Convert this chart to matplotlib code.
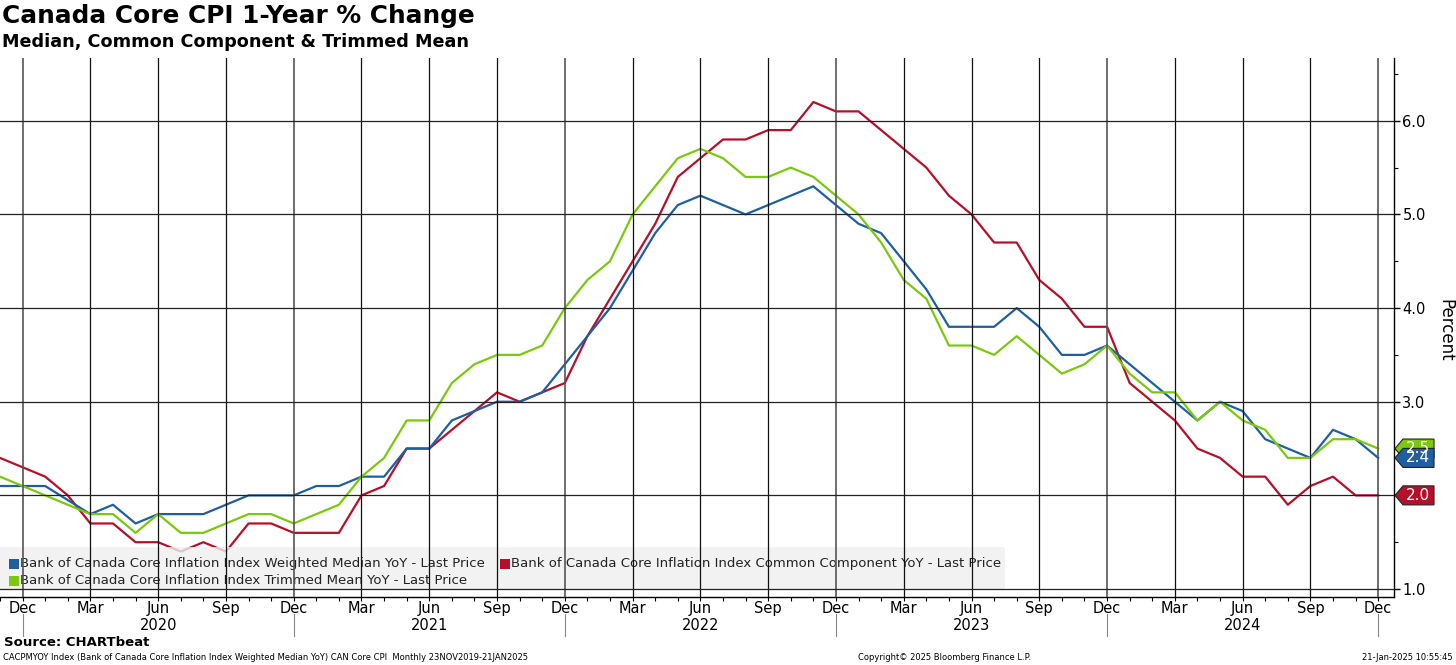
import numpy as np
import matplotlib
matplotlib.use("Agg")
import matplotlib.pyplot as plt
from matplotlib.patches import Rectangle, Polygon
from matplotlib.lines import Line2D
import matplotlib.transforms as mtransforms
from matplotlib.ticker import FixedLocator, MultipleLocator

plt.rcParams['font.family'] = ['DejaVu Sans']

# ---- data (monthly, Nov 2019 .. Dec 2024) ----
months = ['Nov', 'Dec'] + ['Jan', 'Feb', 'Mar', 'Apr', 'May', 'Jun', 'Jul', 'Aug', 'Sep', 'Oct', 'Nov', 'Dec'] * 5
years = [2019, 2019] + [y for y in range(2020, 2025) for _ in range(12)]

median = [2.1, 2.1,
          2.1, 1.95, 1.8, 1.9, 1.7, 1.8, 1.8, 1.8, 1.9, 2.0, 2.0, 2.0,
          2.1, 2.1, 2.2, 2.2, 2.5, 2.5, 2.8, 2.9, 3.0, 3.0, 3.1, 3.4,
          3.7, 4.0, 4.4, 4.8, 5.1, 5.2, 5.1, 5.0, 5.1, 5.2, 5.3, 5.1,
          4.9, 4.8, 4.5, 4.2, 3.8, 3.8, 3.8, 4.0, 3.8, 3.5, 3.5, 3.6,
          3.4, 3.2, 3.0, 2.8, 3.0, 2.9, 2.6, 2.5, 2.4, 2.7, 2.6, 2.4]

common = [2.4, 2.3,
          2.2, 2.0, 1.7, 1.7, 1.5, 1.5, 1.4, 1.5, 1.4, 1.7, 1.7, 1.6,
          1.6, 1.6, 2.0, 2.1, 2.5, 2.5, 2.7, 2.9, 3.1, 3.0, 3.1, 3.2,
          3.7, 4.1, 4.5, 4.9, 5.4, 5.6, 5.8, 5.8, 5.9, 5.9, 6.2, 6.1,
          6.1, 5.9, 5.7, 5.5, 5.2, 5.0, 4.7, 4.7, 4.3, 4.1, 3.8, 3.8,
          3.2, 3.0, 2.8, 2.5, 2.4, 2.2, 2.2, 1.9, 2.1, 2.2, 2.0, 2.0]

trimmed = [2.2, 2.1,
           2.0, 1.9, 1.8, 1.8, 1.6, 1.8, 1.6, 1.6, 1.7, 1.8, 1.8, 1.7,
           1.8, 1.9, 2.2, 2.4, 2.8, 2.8, 3.2, 3.4, 3.5, 3.5, 3.6, 4.0,
           4.3, 4.5, 5.0, 5.3, 5.6, 5.7, 5.6, 5.4, 5.4, 5.5, 5.4, 5.2,
           5.0, 4.7, 4.3, 4.1, 3.6, 3.6, 3.5, 3.7, 3.5, 3.3, 3.4, 3.6,
           3.3, 3.1, 3.1, 2.8, 3.0, 2.8, 2.7, 2.4, 2.4, 2.6, 2.6, 2.5]

series_labels = ['Bank of Canada Core Inflation Index Weighted Median YoY - Last Price',
                 'Bank of Canada Core Inflation Index Common Component YoY - Last Price',
                 'Bank of Canada Core Inflation Index Trimmed Mean YoY - Last Price']
y_ticks = [1.0, 2.0, 3.0, 4.0, 5.0, 6.0]

title = 'Canada Core CPI 1-Year % Change'
subtitle = 'Median, Common Component & Trimmed Mean'

C_BLUE = '#1f5fa0'
C_RED = '#b5102a'
C_GREEN = '#7bc80e'

# ---- figure ----
W, H = 1456, 665
fig = plt.figure(figsize=(W / 100, H / 100), dpi=100)
AX_L, AX_R, AX_T, AX_B = 0, 1394, 58, 597
ax = fig.add_axes([AX_L / W, 1 - AX_B / H, (AX_R - AX_L) / W, (AX_B - AX_T) / H])

x = np.arange(len(months))
ax.plot(x, common, color=C_RED, lw=1.6, zorder=2)
ax.plot(x, median, color=C_BLUE, lw=1.6, zorder=2.05)
ax.plot(x, trimmed, color=C_GREEN, lw=1.6, zorder=2.1)

ax.set_xlim(0, 61.7)
ax.set_ylim(0.915, 6.67)

# spines
for s in ['top', 'left']:
    ax.spines[s].set_visible(False)
ax.spines['right'].set_linewidth(1.0)
ax.spines['bottom'].set_linewidth(1.0)

# x ticks
quarter_idx = [i for i, m in enumerate(months) if m in ('Dec', 'Mar', 'Jun', 'Sep')]
ax.xaxis.set_major_locator(FixedLocator(quarter_idx))
ax.set_xticklabels([months[i] for i in quarter_idx])
ax.xaxis.set_minor_locator(FixedLocator(list(x)))
ax.tick_params(axis='x', which='major', length=3, width=0.8, pad=0, labelsize=10.5, direction='out')
ax.tick_params(axis='x', which='minor', length=3, width=0.8, direction='out')

# y ticks on right (the 2.0 label is covered by the last-value tag in the reference)
last_vals = [median[-1], common[-1], trimmed[-1]]
ax.yaxis.tick_right()
ax.set_yticks(y_ticks)
ax.set_yticklabels(['' if any(abs(v - lv) < 0.15 for lv in last_vals) else f'{v:.1f}' for v in y_ticks])
ax.yaxis.set_minor_locator(MultipleLocator(0.5))
ax.tick_params(axis='y', which='major', length=4, width=1, pad=2, labelsize=10.5, direction='out')
ax.tick_params(axis='y', which='minor', length=3, width=0.8, direction='out')

# gridlines
for i in quarter_idx:
    is_dec = months[i] == 'Dec'
    ax.axvline(i, color='#555555' if is_dec else '#111111', lw=1.2 if is_dec else 0.9, zorder=3)
for v in y_ticks:
    ax.axhline(v, color='#222222', lw=0.9, zorder=3)

# year labels and separators
blend = mtransforms.blended_transform_factory(ax.transData, ax.transAxes)
hpx = AX_B - AX_T
for i, m in enumerate(months):
    if m == 'Jun':
        ax.text(i, -(626 - AX_B) / hpx, str(years[i]), transform=blend, ha='center', va='center', fontsize=10.5)
    if m == 'Dec':
        ax.add_line(Line2D([i, i], [-(614 - AX_B) / hpx, -(636 - AX_B) / hpx], transform=blend,
                           color='#888888', lw=0.8, clip_on=False))

# legend (drawn beneath gridlines, semi-transparent)
wpx = AX_R - AX_L
def axp(px, py):
    return ((px - AX_L) / wpx, (AX_B - py) / hpx)

x0, y0 = axp(0, 589)
x1, y1 = axp(1005, 547)
ax.add_patch(Rectangle((x0, y0), x1 - x0, y1 - y0, transform=ax.transAxes,
                       facecolor='#efefef', edgecolor='none', alpha=0.8, zorder=2.5))
leg_items = [(series_labels[0], C_BLUE, 9, 564),
             (series_labels[1], C_RED, 500, 564),
             (series_labels[2], C_GREEN, 9, 581)]
for lab, col, px, py in leg_items:
    ax0, ay0 = axp(px, py + 5)
    ax1, ay1 = axp(px + 10, py - 5)
    ax.add_patch(Rectangle((ax0, ay0), ax1 - ax0, ay1 - ay0, transform=ax.transAxes,
                           facecolor=col, edgecolor='none', zorder=2.6))
    tx, ty = axp(px + 11, py)
    ax.text(tx, ty, lab, transform=ax.transAxes, ha='left', va='center', fontsize=9.5,
            color='#222222', zorder=2.6)

# value tags on right
tagT = mtransforms.blended_transform_factory(ax.transAxes, ax.transData)
def add_tag(val, col):
    h = 19 / 93.6 / 2
    tip = (1395 - AX_L) / wpx
    left = (1403 - AX_L) / wpx
    right = (1434 - AX_L) / wpx
    poly = Polygon([(tip, val), (left, val + h), (right, val + h), (right, val - h), (left, val - h)],
                   closed=True, transform=tagT, facecolor=col, edgecolor='#222222', lw=0.8, clip_on=False,
                   zorder=5)
    ax.add_patch(poly)
    ax.text((1418 - AX_L) / wpx, val, f'{val:.1f}', transform=tagT, ha='center', va='center',
            color='white', fontsize=11, zorder=6, clip_on=False)

add_tag(trimmed[-1], C_GREEN)
add_tag(median[-1], C_BLUE)
add_tag(common[-1], C_RED)

# titles and text
fig.text(2 / W, 1 - 4 / H, title, ha='left', va='top', fontsize=17.8, fontweight='bold')
fig.text(2 / W, 1 - 33 / H, subtitle, ha='left', va='top', fontsize=12.7, fontweight='bold')
fig.text(1445 / W, 1 - 330 / H, 'Percent', rotation=270, ha='center', va='center', fontsize=12)
fig.text(4 / W, 1 - 643 / H, 'Source: CHARTbeat', ha='left', va='center', fontsize=9.5, fontweight='bold')
fig.text(3 / W, 1 - 658 / H,
         'CACPMYOY Index (Bank of Canada Core Inflation Index Weighted Median YoY) CAN Core CPI  Monthly 23NOV2019-21JAN2025',
         ha='left', va='center', fontsize=6)
fig.text(858 / W, 1 - 658 / H, 'Copyright\u00a9 2025 Bloomberg Finance L.P.', ha='left', va='center', fontsize=6)
fig.text(1453 / W, 1 - 658 / H, '21-Jan-2025 10:55:45', ha='right', va='center', fontsize=6)

fig.savefig('out.png', dpi=100)
